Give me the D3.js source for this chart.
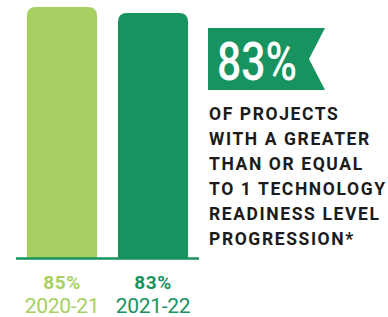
<!DOCTYPE html>
<html>
<head>
<meta charset="utf-8">
<script src="https://cdn.jsdelivr.net/npm/d3@7"></script>
<style>
  body { margin: 0; background: #fff; }
  svg { display: block; }
</style>
</head>
<body>
<div id="chart"></div>
<script>
// data
const years = ['2020-21', '2021-22'];
const values = [85, 83];
const colors = ['#a6d062', '#17935f'];
const headline = '83%';
const captionLines = [
  'OF PROJECTS',
  'WITH A GREATER',
  'THAN OR EQUAL',
  'TO 1 TECHNOLOGY',
  'READINESS LEVEL',
  'PROGRESSION*'
];

const width = 388, height = 317;
const baseY = 258;

const svg = d3.select('#chart').append('svg')
  .attr('width', width)
  .attr('height', height);

const x = d3.scaleBand()
  .domain(years)
  .range([16, 199])
  .paddingInner(0.23)
  .paddingOuter(0.12);

const y = d3.scaleLinear()
  .domain([0, 85])
  .range([baseY, 7]);

// bar with rounded top corners only
function barPath(x0, w, top, bottom, r) {
  return `M${x0},${bottom}V${top + r}Q${x0},${top} ${x0 + r},${top}` +
    `H${x0 + w - r}Q${x0 + w},${top} ${x0 + w},${top + r}V${bottom}Z`;
}

svg.selectAll('path.bar')
  .data(years)
  .join('path')
  .attr('class', 'bar')
  .attr('fill', (d, i) => colors[i])
  .attr('d', (d, i) => barPath(x(d), x.bandwidth(), y(values[i]), baseY, 9));

// baseline
svg.append('line')
  .attr('x1', 16).attr('x2', 199)
  .attr('y1', baseY + 0.5).attr('y2', baseY + 0.5)
  .attr('stroke', '#17935f')
  .attr('stroke-width', 2.5);

// value labels
svg.selectAll('text.val')
  .data(years)
  .join('text')
  .attr('class', 'val')
  .attr('x', d => x(d) + x.bandwidth() / 2)
  .attr('y', 288.5)
  .attr('text-anchor', 'middle')
  .attr('font-family', 'Roboto, sans-serif')
  .attr('font-weight', 'bold')
  .attr('font-size', 19)
  .attr('letter-spacing', 0.6)
  .attr('fill', (d, i) => colors[i])
  .text((d, i) => values[i] + '%');

// year labels
svg.selectAll('text.yr')
  .data(years)
  .join('text')
  .attr('class', 'yr')
  .attr('x', d => x(d) + x.bandwidth() / 2)
  .attr('y', 313)
  .attr('text-anchor', 'middle')
  .attr('font-family', 'Roboto, sans-serif')
  .attr('font-size', 21)
  .attr('letter-spacing', -0.3)
  .attr('fill', (d, i) => colors[i])
  .text(d => d);

// ribbon banner
svg.append('polygon')
  .attr('points', '208,28 325,28 309,59 325,90 208,90')
  .attr('fill', '#17935f');

svg.append('text')
  .attr('x', 217)
  .attr('y', 80)
  .attr('font-family', 'Roboto, sans-serif')
  .attr('font-weight', 500)
  .attr('font-size', 53)
  .attr('fill', '#fff')
  .attr('textLength', 80)
  .attr('lengthAdjust', 'spacingAndGlyphs')
  .text(headline);

// caption
svg.append('g')
  .selectAll('text')
  .data(captionLines)
  .join('text')
  .attr('x', 209)
  .attr('y', (d, i) => 119.5 + i * 25)
  .attr('font-family', 'Roboto, sans-serif')
  .attr('font-weight', 'bold')
  .attr('font-size', 17.5)
  .attr('letter-spacing', 1.6)
  .attr('fill', '#1b1b1b')
  .text(d => d);
</script>
</body>
</html>
